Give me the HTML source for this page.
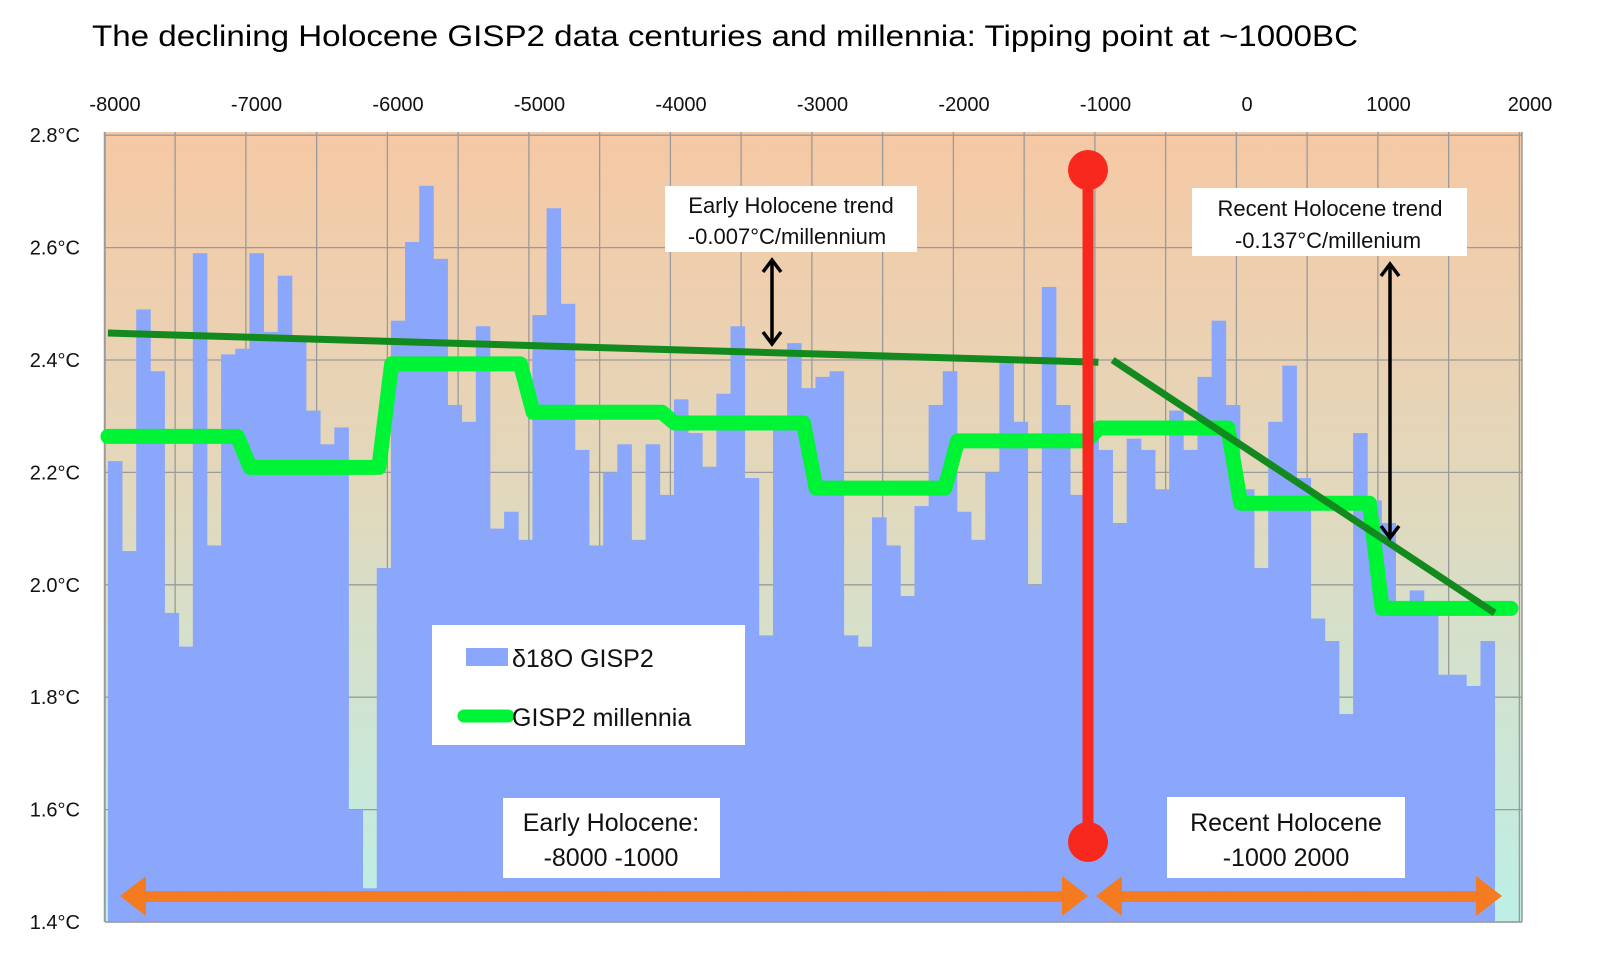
<!DOCTYPE html>
<html><head><meta charset="utf-8"><style>
html,body{margin:0;padding:0;background:#fff;}
svg{display:block;font-family:"Liberation Sans",sans-serif;}
</style></head><body>
<svg id="chart" width="1600" height="968" viewBox="0 0 1600 968" xmlns="http://www.w3.org/2000/svg">
<defs>
<linearGradient id="bg" x1="0" y1="0" x2="0" y2="1">
<stop offset="0" stop-color="#f6c8a4"/>
<stop offset="0.45" stop-color="#e2d8bc"/>
<stop offset="1" stop-color="#bdefe6"/>
</linearGradient>
</defs>
<text x="92" y="46" font-size="30" textLength="1266" lengthAdjust="spacingAndGlyphs">The declining Holocene  GISP2 data centuries and millennia: Tipping point at ~1000BC</text>
<rect x="105" y="132" width="1417" height="790" fill="url(#bg)"/>
<g id="grid"></g>
<g id="bars"></g>
<g id="axes"></g>
<g id="lines"></g>
<g id="annot"></g>
</svg>
<script>
const centuryYears = [];
for (let y = -8000; y <= 1900; y += 100) centuryYears.push(y);
const gispValues = [2.22,2.06,2.49,2.38,1.95,1.89,2.59,2.07,2.41,2.42,2.59,2.45,2.55,2.44,2.31,2.25,2.28,1.60,1.46,2.03,
2.47,2.61,2.71,2.58,2.32,2.29,2.46,2.10,2.13,2.08,2.48,2.67,2.50,2.24,2.07,2.20,2.25,2.08,2.25,2.16,
2.33,2.27,2.21,2.34,2.46,2.19,1.91,2.28,2.43,2.35,2.37,2.38,1.91,1.89,2.12,2.07,1.98,2.14,2.32,2.38,
2.13,2.08,2.20,2.40,2.29,2.00,2.53,2.32,2.16,2.27,2.24,2.11,2.26,2.24,2.17,2.31,2.24,2.37,2.47,2.32,
2.17,2.03,2.29,2.39,2.19,1.94,1.90,1.77,2.27,2.15,2.11,1.96,1.99,1.97,1.84,1.84,1.82,1.90,1.40,1.40];
const millenniumStarts = [-8000,-7000,-6000,-5000,-4000,-3000,-2000,-1000,0,1000];
const millenniumValues = [2.264,2.209,2.393,2.307,2.288,2.172,2.256,2.279,2.145,1.958];
const earlyTrend = [[-8050,2.448],[-1050,2.396]];
const recentTrend = [[-950,2.40],[1750,1.95]];
const xTicks = [-8000,-7000,-6000,-5000,-4000,-3000,-2000,-1000,0,1000,2000];
const yTicks = [2.8,2.6,2.4,2.2,2.0,1.8,1.6,1.4];

const NS = "http://www.w3.org/2000/svg";
const X = yr => 115 + (yr + 8000) * 0.1415;
const Y = v => 922 - (v - 1.4) * 562;
function mk(tag, attrs, parent){const e=document.createElementNS(NS,tag);for(const k in attrs)e.setAttribute(k,attrs[k]);parent.appendChild(e);return e;}

const grid = document.getElementById('grid');
for (let k = 0; k <= 20; k++) {
  const gx = X(-8075 + 500*k);
  const l = mk('line',{x1:gx,x2:gx,y1:132,y2:922,stroke:'#9a9a9a','stroke-width':1.3},grid);
  
  
}
yTicks.forEach(v=>{
  const l = mk('line',{x1:105,x2:1522,y1:Y(v),y2:Y(v),stroke:'#9a9a9a','stroke-width':1.3},grid);
  
  
});

const bars = document.getElementById('bars');
gispValues.forEach((v,i)=>{
  const yr = centuryYears[i];
  const x0 = X(yr-50), x1 = X(yr+50);
  const r = mk('rect',{x:x0,y:Y(v),width:x1-x0+0.4,height:Math.max(0,922-Y(v)),fill:'#8aa7fb'},bars);
  
  
});

const axes = document.getElementById('axes');
mk('line',{x1:105,x2:105,y1:132,y2:922,stroke:'#9a9a9a','stroke-width':1.5},axes);
mk('line',{x1:1522,x2:1522,y1:132,y2:922,stroke:'#9a9a9a','stroke-width':1.5},axes);
mk('line',{x1:105,x2:1522,y1:922,y2:922,stroke:'#9a9a9a','stroke-width':1.5},axes);
xTicks.forEach(t=>{
  const tx = mk('text',{x:X(t),y:111,'font-size':20,'text-anchor':'middle',fill:'#111'},axes);
  tx.textContent = String(t);
  
  
});
yTicks.forEach(v=>{
  const tx = mk('text',{x:80,y:Y(v)+7,'font-size':20,'text-anchor':'end',fill:'#111'},axes);
  tx.textContent = v.toFixed(1)+'°C';
  
  
});

const lines = document.getElementById('lines');
let pts = [];
millenniumStarts.forEach((m,i)=>{
  pts.push([X(i===0? m-50 : m-45), Y(millenniumValues[i])]);
  pts.push([X(m+865), Y(millenniumValues[i])]);
});
const mil = mk('polyline',{points:pts.map(p=>p.join(',')).join(' '),fill:'none',stroke:'#00f436','stroke-width':15,'stroke-linejoin':'round','stroke-linecap':'round'},lines);


[earlyTrend,recentTrend].forEach((tr,i)=>{
  const l = mk('line',{x1:X(tr[0][0]),y1:Y(tr[0][1]),x2:X(tr[1][0]),y2:Y(tr[1][1]),stroke:'#138a1e','stroke-width':7},lines);
  
  
});
</script>
<svg style="position:absolute;left:0;top:0" width="1600" height="968">
<g fill="none" stroke="#000" stroke-width="3.5">
<line x1="772" y1="262" x2="772" y2="342"/><polyline points="763,272 772,260 781,272"/><polyline points="763,332 772,344 781,332"/>
<line x1="1390" y1="266" x2="1390" y2="536"/><polyline points="1381,276 1390,264 1399,276"/><polyline points="1381,526 1390,538 1399,526"/>
</g>
<g>
<line x1="1088" y1="170" x2="1088" y2="842" stroke="#f8281e" stroke-width="11"/>
<circle cx="1088" cy="170" r="20" fill="#f8281e"/>
<circle cx="1088" cy="842" r="20" fill="#f8281e"/>
</g>
<g fill="#f47b20">
<rect x="140" y="891" width="928" height="11"/>
<polygon points="120,896 146,876 146,916"/>
<polygon points="1088,896 1062,876 1062,916"/>
<rect x="1116" y="891" width="366" height="11"/>
<polygon points="1096,896 1122,876 1122,916"/>
<polygon points="1502,896 1476,876 1476,916"/>
</g>
<g font-family="Liberation Sans, sans-serif" fill="#111">
<rect x="665" y="186" width="252" height="66" fill="#fff"/>
<text x="791" y="213" font-size="22" text-anchor="middle">Early Holocene  trend</text>
<text x="787" y="244" font-size="22" text-anchor="middle">-0.007°C/millennium</text>
<rect x="1192" y="188" width="275" height="68" fill="#fff"/>
<text x="1330" y="216" font-size="22" text-anchor="middle">Recent Holocene trend</text>
<text x="1328" y="248" font-size="22" text-anchor="middle">-0.137°C/millenium</text>
<rect x="432" y="625" width="313" height="120" fill="#fff"/>
<rect x="466" y="648" width="42" height="18" fill="#8aa7fb"/>
<text x="512" y="667" font-size="25">δ18O GISP2</text>
<line x1="464" y1="716" x2="508" y2="716" stroke="#00f436" stroke-width="13" stroke-linecap="round"/>
<text x="512" y="726" font-size="25">GISP2 millennia</text>
<rect x="503" y="798" width="217" height="80" fill="#fff"/>
<text x="611" y="831" font-size="25" text-anchor="middle">Early Holocene:</text>
<text x="611" y="866" font-size="25" text-anchor="middle">-8000 -1000</text>
<rect x="1167" y="797" width="238" height="81" fill="#fff"/>
<text x="1286" y="831" font-size="25" text-anchor="middle">Recent Holocene</text>
<text x="1286" y="866" font-size="25" text-anchor="middle">-1000 2000</text>
</g>
</svg>
</body></html>
